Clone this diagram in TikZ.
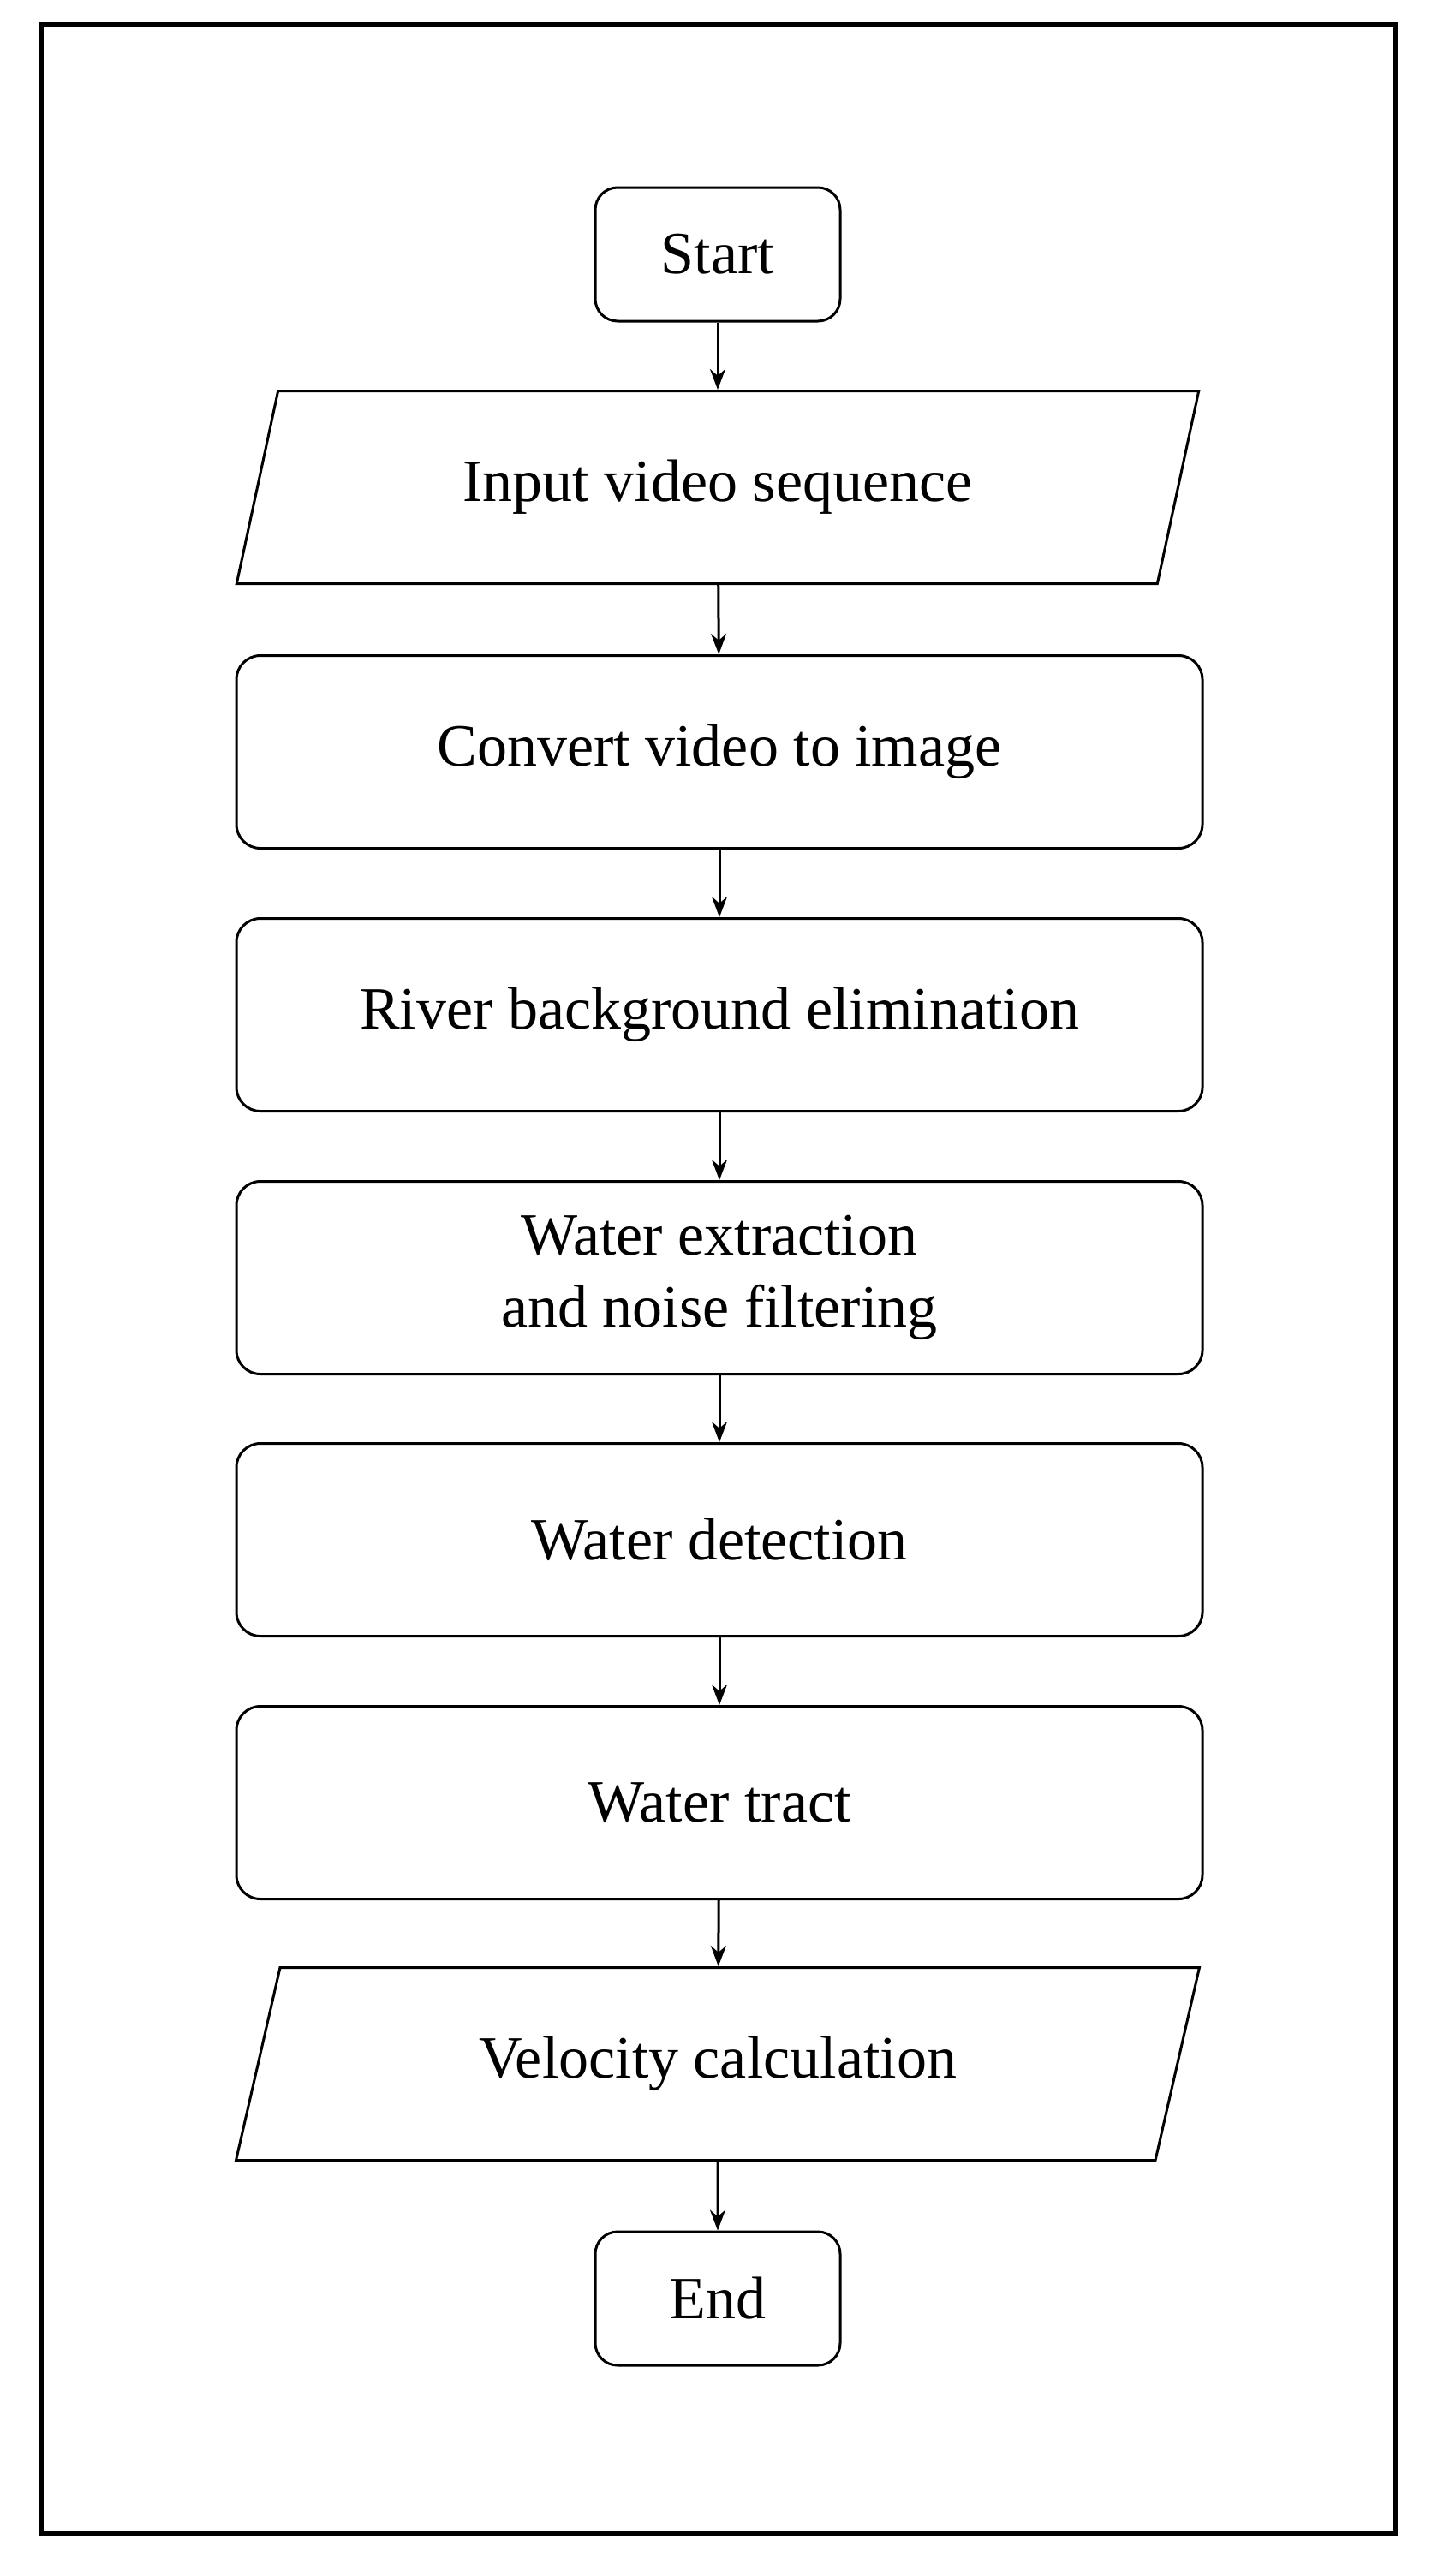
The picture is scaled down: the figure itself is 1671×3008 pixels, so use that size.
\documentclass[tikz,border=0pt]{standalone}
\usepackage{fontspec}
\setmainfont{Liberation Serif}
\usetikzlibrary{shapes.geometric,arrows.meta}
\begin{document}
\begin{tikzpicture}[x=1pt,y=-1pt,
  box/.style={draw,line width=3pt,rounded corners=28pt,minimum width=1128pt,minimum height=225pt,align=center,font=\fontsize{70}{84}\selectfont},
  term/.style={draw,line width=3pt,rounded corners=26pt,minimum width=286pt,minimum height=156pt,font=\fontsize{70}{84}\selectfont},
  io/.style={draw,line width=3pt,trapezium,trapezium left angle=68,trapezium right angle=112,minimum width=1130pt,minimum height=225pt,trapezium stretches=true,font=\fontsize{70}{84}\selectfont},
  arr/.style={line width=3pt,-{Stealth[length=24pt,width=18pt]}}]
\useasboundingbox (0,0) rectangle (1671,3008);
\draw[line width=6pt] (48,29) rectangle (1629,2958);
\node[term] (s) at (838,297) {Start};
\node[io] (i) at (838,569) {Input video sequence};
\node[box] (b1) at (840,878) {Convert video to image};
\node[box] (b2) at (840,1185) {River background elimination};
\node[box] (b3) at (840,1492) {Water extraction\\and noise filtering};
\node[box] (b4) at (840,1798) {Water detection};
\node[box] (b5) at (840,2105) {Water tract};
\node[io] (v) at (838,2410) {Velocity calculation};
\node[term] (e) at (838,2684) {End};
\foreach \a/\b in {s/i,i/b1,b1/b2,b2/b3,b3/b4,b4/b5,b5/v,v/e}
  \draw[arr] (\a) -- (\b);
\end{tikzpicture}
\end{document}
